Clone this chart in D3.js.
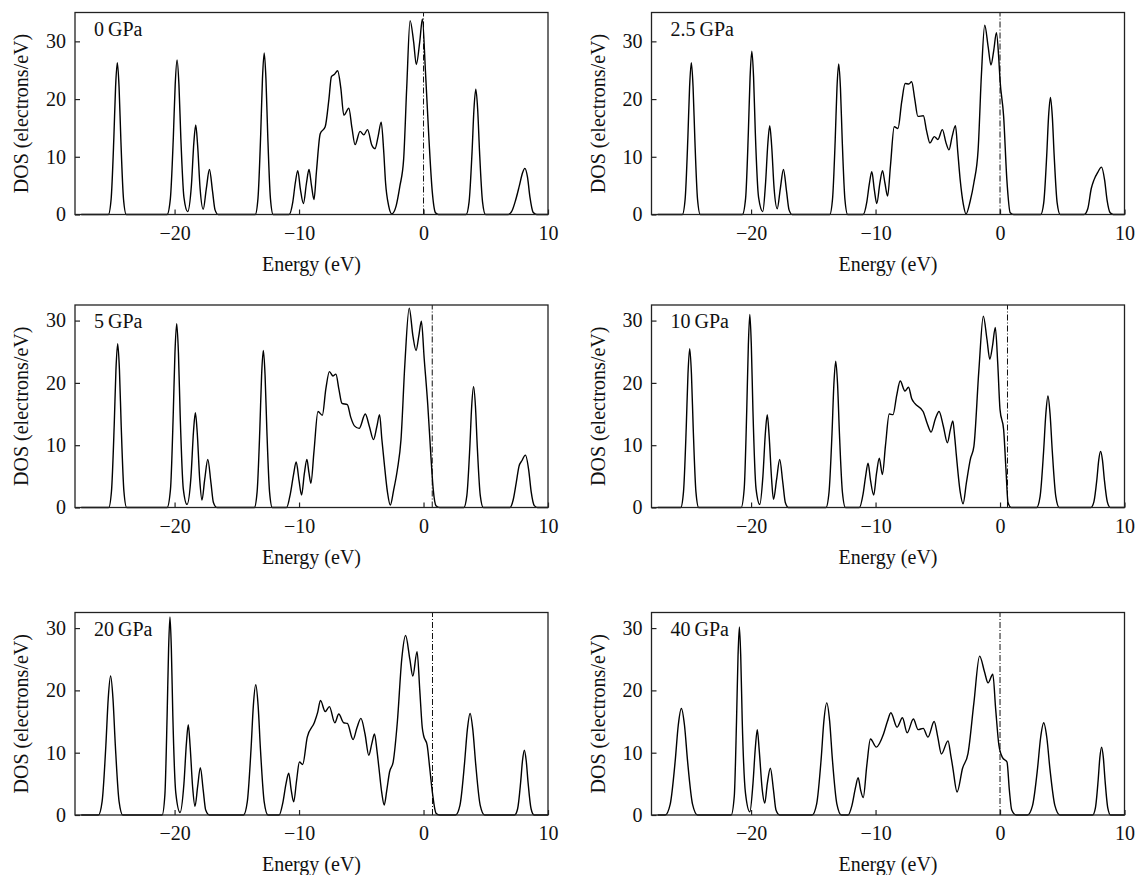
<!DOCTYPE html>
<html>
<head>
<meta charset="utf-8">
<script src="https://cdn.jsdelivr.net/npm/d3@7"></script>
<style>
  body { margin: 0; background: #fff; }
  svg text { font-family: "Liberation Serif", "Times New Roman", serif; fill: #111; }
</style>
</head>
<body>
<svg id="dos-chart"></svg>
<script>
// Total density of states at six pressures.

const pressureLabels = ["0\u2009GPa", "2.5\u2009GPa", "5\u2009GPa", "10\u2009GPa", "20\u2009GPa", "40\u2009GPa"];
const fermiLevels = [0, 0, 0.7, 0.6, 0.72, 0];
const dosMax = [35, 35, 32.5, 32.5, 32.5, 32.5];
const energyTicks = [-20, -10, 0, 10];
const dosTicks = [0, 10, 20, 30];

// [energy (eV), DOS (electrons/eV)]
const dos0GPa = [
  [-27.5, 0],
  [-25.32, 0], [-25.1, 2.6], [-24.88, 13.2], [-24.74, 22.1], [-24.6, 26.3], [-24.46, 22.1], [-24.32, 13.2], [-24.1, 2.6], [-23.88, 0],
  [-20.6, 0], [-20.34, 2.7], [-20.1, 13.4], [-19.95, 22.5], [-19.8, 26.8], [-19.65, 22.5], [-19.5, 13.4], [-19.25, 3], [-18.95, 0.5],
  [-18.65, 5], [-18.45, 12.5], [-18.3, 15.5], [-18.15, 12], [-17.95, 4.5], [-17.7, 0.9],
  [-17.45, 4.5], [-17.2, 7.8], [-16.95, 4], [-16.75, 0.8], [-16.5, 0],
  [-13.52, 0], [-13.3, 2.8], [-13.08, 14], [-12.94, 23.5], [-12.8, 28], [-12.66, 23.5], [-12.52, 14], [-12.3, 2.8], [-12.08, 0],
  [-10.8, 0], [-10.5, 2.2], [-10.3, 5.5], [-10.1, 7.6], [-9.9, 4.5], [-9.65, 1.9], [-9.4, 5.5], [-9.2, 7.8], [-9.0, 5], [-8.8, 2.6],
  [-8.6, 7.5], [-8.3, 14], [-7.9, 15.2], [-7.6, 20], [-7.4, 23.9], [-7.15, 24.3], [-6.9, 24.9], [-6.65, 22], [-6.4, 17.2], [-6.0, 18.4],
  [-5.75, 15], [-5.5, 12.1], [-5.1, 14.4], [-4.8, 13.8], [-4.5, 14.7], [-4.15, 12], [-3.9, 11.4], [-3.65, 13.5], [-3.4, 16], [-3.2, 11],
  [-3.05, 5.5], [-2.8, 1.5], [-2.55, 0.1], [-2.2, 1.5], [-1.9, 4.9], [-1.6, 9.5], [-1.35, 22], [-1.08, 33.6], [-0.8, 30], [-0.58, 26],
  [-0.3, 30], [-0.09, 33.9], [0.15, 25], [0.44, 12.9], [0.7, 4], [0.96, 0.3], [1.2, 0],
  [3.42, 0], [3.66, 2.2], [3.9, 10.9], [4.05, 18.2], [4.2, 21.7], [4.35, 18.2], [4.5, 10.9], [4.74, 2.2], [4.98, 0],
  [6.8, 0], [7.1, 0.6], [7.4, 2.5], [7.7, 5], [7.95, 7.2], [8.14, 8], [8.35, 6.5], [8.55, 3], [8.8, 0.4], [9.1, 0],
  [10, 0]
];

const dos2_5GPa = [
  [-27.5, 0],
  [-25.52, 0], [-25.3, 2.6], [-25.08, 13.2], [-24.94, 22.1], [-24.8, 26.3], [-24.66, 22.1], [-24.52, 13.2], [-24.3, 2.6], [-24.08, 0],
  [-20.7, 0], [-20.44, 2.8], [-20.22, 14.2], [-20.08, 23.8], [-19.94, 28.3], [-19.8, 23.8], [-19.66, 14.2], [-19.4, 3], [-19.06, 0.5],
  [-18.85, 5], [-18.65, 12.4], [-18.5, 15.4], [-18.35, 12], [-18.15, 4.5], [-17.9, 1.0],
  [-17.65, 4.5], [-17.4, 7.8], [-17.15, 4], [-16.95, 0.8], [-16.7, 0],
  [-13.68, 0], [-13.46, 2.6], [-13.24, 13], [-13.1, 21.9], [-12.96, 26.1], [-12.82, 21.9], [-12.68, 13], [-12.46, 2.6], [-12.24, 0],
  [-11.0, 0], [-10.7, 2.2], [-10.5, 5.3], [-10.3, 7.4], [-10.1, 4.3], [-9.9, 1.9], [-9.65, 5.5], [-9.44, 7.6], [-9.25, 5.5], [-9.03, 3.2],
  [-8.8, 8.5], [-8.5, 15.2], [-8.2, 14.9], [-7.9, 19.5], [-7.62, 22.7], [-7.33, 22.6], [-7.1, 23], [-6.85, 20], [-6.6, 17], [-6.16, 17.1],
  [-5.9, 14.5], [-5.63, 12.4], [-5.28, 13.5], [-4.99, 13.0], [-4.63, 14.7], [-4.35, 12.5], [-4.1, 11.2], [-3.85, 13.5], [-3.58, 15.4], [-3.4, 11],
  [-3.2, 6], [-2.95, 1.8], [-2.73, 0.1], [-2.4, 2.3], [-2.1, 5.5], [-1.76, 11.2], [-1.5, 24], [-1.23, 32.8], [-0.95, 29], [-0.73, 25.9],
  [-0.5, 28.5], [-0.29, 31.5], [-0.1, 27], [0, 23.3], [0.29, 17], [0.55, 6], [0.82, 0.3], [1.1, 0],
  [3.27, 0], [3.51, 2], [3.75, 10.2], [3.9, 17], [4.05, 20.3], [4.2, 17], [4.35, 10.2], [4.59, 2], [4.83, 0],
  [6.75, 0], [7.05, 1], [7.33, 4.5], [7.55, 6], [7.85, 7.3], [8.15, 8.2], [8.4, 6], [8.6, 2.5], [8.85, 0.3], [9.1, 0],
  [10, 0]
];

const dos5GPa = [
  [-27.5, 0],
  [-25.29, 0], [-25.07, 2.6], [-24.85, 13.2], [-24.71, 22.1], [-24.57, 26.3], [-24.43, 22.1], [-24.29, 13.2], [-24.07, 2.6], [-23.85, 0],
  [-20.6, 0], [-20.33, 2.9], [-20.11, 14.8], [-19.97, 24.8], [-19.83, 29.5], [-19.69, 24.8], [-19.55, 14.8], [-19.3, 3], [-19.0, 0.5],
  [-18.68, 5], [-18.48, 12.2], [-18.33, 15.2], [-18.18, 12], [-17.98, 4.5], [-17.8, 1.2],
  [-17.58, 4.5], [-17.33, 7.7], [-17.08, 4], [-16.88, 0.8], [-16.6, 0],
  [-13.59, 0], [-13.37, 2.5], [-13.15, 12.6], [-13.01, 21.2], [-12.87, 25.2], [-12.73, 21.2], [-12.59, 12.6], [-12.37, 2.5], [-12.15, 0],
  [-11.0, 0], [-10.7, 2.2], [-10.45, 5.2], [-10.23, 7.3], [-10.0, 4.3], [-9.8, 2.0], [-9.57, 5.5], [-9.37, 7.7], [-9.2, 5.5], [-9.05, 3.9],
  [-8.8, 9], [-8.48, 15.4], [-8.13, 14.8], [-7.85, 19], [-7.56, 21.8], [-7.27, 21.1], [-7.04, 21.4], [-6.8, 19], [-6.55, 16.7], [-6.12, 16.5],
  [-5.85, 14.5], [-5.55, 13.1], [-5.17, 12.7], [-4.68, 15.0], [-4.35, 13], [-4.02, 10.9], [-3.75, 13], [-3.53, 14.9], [-3.35, 11], [-3.16, 7.2],
  [-2.9, 2.5], [-2.67, 0.4], [-2.4, 2.8], [-2.1, 6.1], [-1.81, 10.9], [-1.5, 23], [-1.15, 32.0], [-0.85, 27.5], [-0.6, 25.2], [-0.38, 27.5],
  [-0.17, 29.9], [0.05, 24], [0.34, 16.5], [0.6, 8], [0.78, 2.9], [1.0, 0.3], [1.3, 0],
  [3.24, 0], [3.48, 1.9], [3.72, 9.7], [3.87, 16.3], [4.02, 19.4], [4.17, 16.3], [4.32, 9.7], [4.56, 1.9], [4.8, 0],
  [6.95, 0], [7.2, 1.2], [7.45, 4], [7.67, 6.6], [7.9, 7.5], [8.19, 8.4], [8.45, 6], [8.65, 2.5], [8.9, 0.3], [9.15, 0],
  [10, 0]
];

const dos10GPa = [
  [-27.5, 0],
  [-25.65, 0], [-25.43, 2.5], [-25.21, 12.8], [-25.07, 21.4], [-24.93, 25.5], [-24.79, 21.4], [-24.65, 12.8], [-24.43, 2.5], [-24.21, 0],
  [-20.8, 0], [-20.55, 3.1], [-20.35, 15.5], [-20.22, 26], [-20.1, 31], [-19.98, 26], [-19.85, 15.5], [-19.6, 3], [-19.3, 0.5],
  [-19.05, 5], [-18.85, 12], [-18.7, 14.9], [-18.55, 11.5], [-18.35, 4.5], [-18.2, 1.3],
  [-17.95, 4.5], [-17.7, 7.7], [-17.45, 4], [-17.25, 0.8], [-17.0, 0],
  [-13.98, 0], [-13.74, 2.4], [-13.5, 11.8], [-13.35, 19.7], [-13.2, 23.5], [-13.05, 19.7], [-12.9, 11.8], [-12.66, 2.4], [-12.42, 0],
  [-11.3, 0], [-11.0, 2.2], [-10.8, 5], [-10.6, 7.1], [-10.4, 4.3], [-10.15, 2.0], [-9.92, 5.5], [-9.7, 7.9], [-9.45, 5.3], [-9.2, 10],
  [-8.9, 15], [-8.6, 14.9], [-8.3, 18], [-8.02, 20.3], [-7.64, 18.7], [-7.35, 19.3], [-7.1, 17.5], [-6.85, 16.7], [-6.18, 15.4], [-5.85, 13.5],
  [-5.54, 12.1], [-5.2, 14.2], [-4.9, 15.4], [-4.55, 13], [-4.23, 10.4], [-3.99, 12.5], [-3.79, 13.9], [-3.65, 11.5], [-3.5, 8.2], [-3.2, 2.5],
  [-2.97, 0.6], [-2.7, 4], [-2.39, 7.7], [-2.1, 9.8], [-1.7, 22], [-1.34, 30.7], [-1.05, 27], [-0.82, 23.8], [-0.6, 26], [-0.38, 28.9],
  [-0.18, 23], [0, 15.7], [0.29, 12.5], [0.48, 6], [0.64, 0.8], [0.9, 0],
  [2.94, 0], [3.22, 1.8], [3.5, 9], [3.68, 15], [3.85, 17.9], [4.02, 15], [4.2, 9], [4.48, 1.8], [4.76, 0],
  [7.3, 0], [7.54, 0.9], [7.78, 4.5], [7.93, 7.6], [8.08, 9], [8.23, 7.6], [8.38, 4.5], [8.62, 0.9], [8.86, 0],
  [10, 0]
];

const dos20GPa = [
  [-27.5, 0],
  [-26.12, 0], [-25.82, 2.2], [-25.52, 11.2], [-25.33, 18.7], [-25.14, 22.3], [-24.95, 18.7], [-24.76, 11.2], [-24.46, 2.2], [-24.16, 0],
  [-21.0, 0], [-20.78, 3.2], [-20.6, 15.9], [-20.48, 26.7], [-20.37, 31.8], [-20.26, 26.7], [-20.14, 15.9], [-19.9, 3.5], [-19.56, 0.4],
  [-19.25, 5], [-19.05, 11.5], [-18.9, 14.5], [-18.75, 11], [-18.55, 4.5], [-18.36, 1.4],
  [-18.15, 4.5], [-17.93, 7.6], [-17.7, 4], [-17.5, 0.8], [-17.2, 0],
  [-14.46, 0], [-14.16, 2.1], [-13.86, 10.5], [-13.67, 17.6], [-13.48, 20.9], [-13.29, 17.6], [-13.1, 10.5], [-12.8, 2.1], [-12.5, 0],
  [-11.6, 0], [-11.3, 2], [-11.05, 5], [-10.83, 6.7], [-10.63, 4], [-10.43, 2.1], [-10.2, 5.5], [-9.97, 8.5], [-9.71, 8.1], [-9.34, 12.5],
  [-8.76, 14.9], [-8.5, 16.5], [-8.28, 18.4], [-7.9, 16.6], [-7.56, 17.4], [-7.13, 14.8], [-6.81, 16.2], [-6.41, 14.8], [-6.12, 14.7], [-5.66, 12.1],
  [-5.35, 14], [-5.03, 15.5], [-4.7, 13], [-4.4, 9.6], [-4.15, 11.5], [-3.94, 13], [-3.75, 10.5], [-3.59, 7.7], [-3.35, 3.5], [-3.16, 1.6],
  [-2.95, 4], [-2.73, 6.9], [-2.44, 8.5], [-2.1, 15], [-1.75, 25], [-1.44, 28.8], [-1.1, 25], [-0.86, 22.3], [-0.52, 26.2], [-0.3, 20],
  [-0.1, 14], [0, 12.8], [0.29, 11.2], [0.5, 7.5], [0.72, 3.5], [1.0, 0.3], [1.3, 0],
  [2.57, 0], [2.93, 1.6], [3.29, 8.2], [3.52, 13.7], [3.74, 16.3], [3.96, 13.7], [4.19, 8.2], [4.55, 1.6], [4.91, 0],
  [7.32, 0], [7.56, 1], [7.8, 5.2], [7.95, 8.7], [8.1, 10.4], [8.25, 8.7], [8.4, 5.2], [8.64, 1], [8.88, 0],
  [10, 0]
];

const dos40GPa = [
  [-27.5, 0],
  [-26.9, 0], [-26.5, 1.7], [-26.1, 8.6], [-25.85, 14.4], [-25.6, 17.1], [-25.35, 14.4], [-25.1, 8.6], [-24.7, 1.7], [-24.3, 0],
  [-21.6, 0], [-21.35, 3], [-21.17, 15.1], [-21.05, 25.4], [-20.94, 30.2], [-20.83, 25.4], [-20.71, 15.1], [-20.45, 3.5], [-20.1, 0.5],
  [-19.85, 5], [-19.65, 11], [-19.5, 13.7], [-19.35, 10.5], [-19.1, 4], [-18.9, 1.9],
  [-18.7, 5], [-18.45, 7.5], [-18.2, 4], [-18.0, 0.8], [-17.7, 0],
  [-15.1, 0], [-14.73, 1.8], [-14.37, 9], [-14.15, 15.1], [-13.92, 18], [-13.69, 15.1], [-13.47, 9], [-13.11, 1.8], [-12.74, 0],
  [-12.2, 0], [-11.9, 1.5], [-11.6, 4.5], [-11.4, 6.0], [-11.2, 4], [-10.99, 2.8], [-10.7, 8], [-10.41, 12.2], [-9.94, 10.9], [-9.36, 13],
  [-9.05, 15], [-8.77, 16.4], [-8.27, 14.1], [-7.84, 15.6], [-7.46, 13.2], [-6.96, 15.4], [-6.58, 13.7], [-6.17, 13.9], [-5.79, 12.5], [-5.29, 15],
  [-5.0, 12.5], [-4.71, 9.8], [-4.18, 11.9], [-3.95, 9.5], [-3.8, 7.7], [-3.45, 3.7], [-3.01, 7.5], [-2.57, 9.9], [-2.1, 18], [-1.64, 25.5],
  [-1.25, 23], [-0.96, 21.2], [-0.58, 22.6], [-0.35, 17], [-0.09, 11.2], [0.2, 9.2], [0.56, 8.5], [0.75, 4], [0.94, 0.8], [1.3, 0],
  [2.21, 0], [2.61, 1.5], [3.01, 7.4], [3.26, 12.4], [3.51, 14.8], [3.76, 12.4], [4.01, 7.4], [4.41, 1.5], [4.81, 0],
  [7.44, 0], [7.66, 1.1], [7.88, 5.5], [8.02, 9.2], [8.16, 10.9], [8.3, 9.2], [8.44, 5.5], [8.66, 1.1], [8.88, 0],
  [10, 0]
];

const dosSeries = [dos0GPa, dos2_5GPa, dos5GPa, dos10GPa, dos20GPa, dos40GPa];

const width = 1137;
const height = 875;
const colLeft = [75, 651.5];
const plotWidth = 473;
const rowTop = [12.5, 305, 612.5];
const rowHeight = [202, 202.5, 202.5];
const fontSize = 20;

const svg = d3.select("#dos-chart")
    .attr("width", width)
    .attr("height", height);

function drawPanel(i) {
    const col = i % 2;
    const row = Math.floor(i / 2);
    const x0 = colLeft[col];
    const y0 = rowTop[row];
    const h = rowHeight[row];

    const x = d3.scaleLinear().domain([-28, 10]).range([x0, x0 + plotWidth]);
    const y = d3.scaleLinear().domain([0, dosMax[i]]).range([y0 + h, y0]);

    const g = svg.append("g");

    // axes with inward ticks
    const xAxis = g.append("g")
        .attr("transform", `translate(0,${y0 + h})`)
        .call(d3.axisBottom(x).tickValues(energyTicks).tickSize(-5).tickPadding(11));
    const yAxis = g.append("g")
        .attr("transform", `translate(${x0},0)`)
        .call(d3.axisLeft(y).tickValues(dosTicks).tickSize(-5).tickPadding(9));
    [xAxis, yAxis].forEach(a => {
        a.select(".domain").remove();
        a.selectAll(".tick line").attr("stroke", "#222").attr("stroke-width", 1.2);
        a.selectAll(".tick text")
            .attr("font-family", "Liberation Serif, Times New Roman, serif")
            .attr("font-size", fontSize)
            .attr("fill", "#111");
    });

    // Fermi level
    g.append("line")
        .attr("x1", x(fermiLevels[i])).attr("x2", x(fermiLevels[i]))
        .attr("y1", y(0)).attr("y2", y(dosMax[i]))
        .attr("stroke", "#111")
        .attr("stroke-width", 1)
        .attr("stroke-dasharray", "6,2,1,2");

    const line = d3.line()
        .x(d => x(d[0]))
        .y(d => y(d[1]))
        .curve(d3.curveMonotoneX);

    g.append("path")
        .datum(dosSeries[i])
        .attr("fill", "none")
        .attr("stroke", "#000")
        .attr("stroke-width", 1.4)
        .attr("stroke-linejoin", "round")
        .attr("d", line);

    // frame
    g.append("rect")
        .attr("x", x0).attr("y", y0)
        .attr("width", plotWidth).attr("height", h)
        .attr("fill", "none")
        .attr("stroke", "#222")
        .attr("stroke-width", 1.3);

    g.append("text")
        .attr("x", x0 + 19)
        .attr("y", y0 + 23)
        .attr("font-size", fontSize)
        .text(pressureLabels[i]);

    g.append("text")
        .attr("x", x0 + plotWidth / 2)
        .attr("y", y0 + h + 56)
        .attr("text-anchor", "middle")
        .attr("font-size", fontSize)
        .text("Energy (eV)");

    g.append("text")
        .attr("transform", `translate(${x0 - 47},${y0 + h / 2}) rotate(-90)`)
        .attr("text-anchor", "middle")
        .attr("font-size", fontSize)
        .text("DOS (electrons/eV)");
}

dosSeries.forEach((d, i) => drawPanel(i));
</script>
</body>
</html>
